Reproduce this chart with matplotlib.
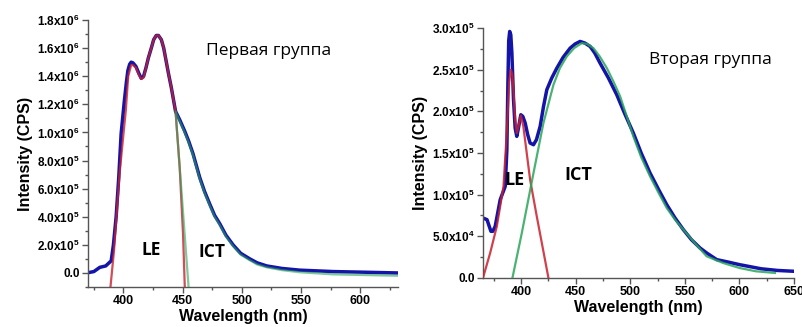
import numpy as np
import matplotlib.pyplot as plt
from matplotlib.ticker import FuncFormatter, MultipleLocator

plt.rcParams['font.family'] = ['Liberation Sans', 'DejaVu Sans']
plt.rcParams['mathtext.fontset'] = 'custom'
plt.rcParams['mathtext.rm'] = 'Liberation Sans'
plt.rcParams['mathtext.bf'] = 'Liberation Sans:bold'

# Panel 1 - measured spectrum
wl1 = [369, 375, 380, 385, 389.6, 391.5, 393.8, 396, 398, 400.8, 402.5, 403.7, 405.2,
       406.5, 408, 410.5, 413, 415, 417, 419, 421, 423.5, 425.5, 427.7, 429.5, 432, 434,
       436, 438, 440.4, 444, 447.5, 451.7, 455, 458.7, 464.4, 468.5, 472.9, 477, 481.4,
       486.5, 492.6, 499, 506.8, 513, 521, 534, 549, 577, 605, 632]
int1 = [0.0, 0.01e6, 0.04e6, 0.05e6, 0.086e6, 0.2e6, 0.4e6, 0.68e6, 0.99e6, 1.23e6,
        1.36e6, 1.44e6, 1.485e6, 1.5e6, 1.495e6, 1.47e6, 1.42e6, 1.385e6, 1.4e6, 1.46e6,
        1.53e6, 1.6e6, 1.66e6, 1.69e6, 1.69e6, 1.66e6, 1.6e6, 1.51e6, 1.42e6, 1.32e6,
        1.15e6, 1.09e6, 1.01e6, 0.94e6, 0.85e6, 0.68e6, 0.58e6, 0.49e6, 0.41e6, 0.35e6,
        0.27e6, 0.2e6, 0.14e6, 0.1e6, 0.072e6, 0.05e6, 0.032e6, 0.02e6, 0.01e6, 0.005e6, 0.0]
# Panel 1 - LE fit
le1_wl = [389, 392, 396.6, 402, 404, 406.5, 408, 410.5, 413, 415, 417, 419, 421, 423.5,
          425.5, 427.7, 429.5, 432, 434, 436, 438, 440.4, 444, 447.5, 450.3, 451.8]
le1_int = [-0.1e6, 0.16e6, 0.7e6, 1.16e6, 1.4e6, 1.48e6, 1.48e6, 1.46e6, 1.41e6, 1.38e6,
           1.39e6, 1.46e6, 1.53e6, 1.6e6, 1.66e6, 1.69e6, 1.69e6, 1.66e6, 1.6e6, 1.51e6,
           1.42e6, 1.32e6, 1.15e6, 0.75e6, 0.28e6, -0.1e6]
# Panel 1 - ICT fit
ict1_wl = [455, 444, 447.5, 451.7, 455, 458.7, 464.4, 468.5, 472.9, 477, 481.4, 486.5,
           492.6, 499, 506.8, 513, 521, 534, 549, 577, 605, 632]
ict1_int = [-0.1e6, 1.15e6, 1.08e6, 1.0e6, 0.93e6, 0.84e6, 0.67e6, 0.57e6, 0.48e6,
            0.4e6, 0.34e6, 0.26e6, 0.19e6, 0.13e6, 0.09e6, 0.06e6, 0.04e6, 0.02e6,
            0.005e6, -0.01e6, -0.015e6, -0.02e6]

# Panel 2 - measured spectrum
wl2 = [365, 368.7, 372.3, 374, 376.2, 380.8, 385.4, 386.9, 387.8, 388.6, 389.5, 390.5,
       391.5, 393, 394.5, 396, 397.5, 399.7, 401.5, 403.7, 406, 408.2, 411.3, 414,
       417.4, 420.5, 423.5, 428, 432.7, 438.5, 444.9, 449.5, 454, 458.5, 463.2, 467.5,
       472.3, 480, 487.6, 495, 502.8, 510, 518.1, 526, 533.4, 541, 548.6, 556, 563.9,
       570, 579.2, 590, 600, 620, 635, 650]
int2 = [0.72e5, 0.70e5, 0.56e5, 0.56e5, 0.62e5, 0.94e5, 1.1e5, 1.54e5, 2.3e5, 2.85e5,
        2.96e5, 2.92e5, 2.7e5, 2.14e5, 1.8e5, 1.7e5, 1.8e5, 1.96e5, 1.94e5, 1.86e5,
        1.72e5, 1.62e5, 1.6e5, 1.66e5, 1.82e5, 2.06e5, 2.26e5, 2.4e5, 2.52e5, 2.65e5,
        2.76e5, 2.81e5, 2.84e5, 2.82e5, 2.78e5, 2.7e5, 2.58e5, 2.4e5, 2.2e5, 1.97e5,
        1.74e5, 1.5e5, 1.26e5, 1.06e5, 0.88e5, 0.72e5, 0.58e5, 0.46e5, 0.36e5, 0.3e5,
        0.22e5, 0.19e5, 0.16e5, 0.11e5, 0.09e5, 0.08e5]
# Panel 2 - LE fit
le2_wl = [365, 371.6, 377.7, 383.8, 386.8, 389, 390.5, 391.8, 393, 394.5, 396, 397.5,
          399.7, 402, 408.2, 414.3, 425]
le2_int = [0.0, 0.3e5, 0.62e5, 1.1e5, 1.74e5, 2.35e5, 2.5e5, 2.45e5, 2.25e5, 1.9e5,
           1.74e5, 1.82e5, 1.95e5, 1.82e5, 1.18e5, 0.74e5, 0.0]
# Panel 2 - ICT fit
ict2_wl = [392, 400.6, 411.3, 420.4, 429.6, 435.5, 441.8, 448.5, 455.6, 460.5, 466.2,
           472, 478.5, 484.5, 490.7, 496.5, 502.8, 510, 518.1, 526, 533.4, 541, 548.6,
           559, 570, 585, 600, 615, 632.6]
ict2_int = [0.0, 0.54e5, 1.26e5, 1.86e5, 2.32e5, 2.52e5, 2.66e5, 2.76e5, 2.82e5,
            2.81e5, 2.76e5, 2.66e5, 2.52e5, 2.36e5, 2.18e5, 1.95e5, 1.7e5, 1.45e5,
            1.22e5, 1.02e5, 0.84e5, 0.7e5, 0.58e5, 0.42e5, 0.26e5, 0.18e5, 0.12e5,
            0.08e5, 0.06e5]

blue = '#1414a8'
red = '#c8202e'
green = '#2aa65a'
callout = ['Open Sans', 'DejaVu Sans']


def sci_fmt(v, pos):
    if abs(v) < 1e-9:
        return '0.0'
    e = int(np.floor(np.log10(abs(v)) + 1e-9))
    m = v / 10 ** e
    return r'$\mathbf{%.1fx10^{%d}}$' % (m, e)


fig = plt.figure(figsize=(8.02, 3.27), dpi=100)
ax1 = fig.add_axes([0.1097, 0.1223, 0.3866, 0.8165])
ax2 = fig.add_axes([0.6022, 0.150, 0.3878, 0.764])

ax1.plot(wl1, int1, color=blue, lw=2.5, zorder=2)
ax1.plot(le1_wl, le1_int, color=red, lw=1.6, alpha=0.8, zorder=3)
ax1.plot(ict1_wl, ict1_int, color=green, lw=1.6, alpha=0.6, zorder=3)
ax1.set_xlim(370, 632)
ax1.set_ylim(-0.1e6, 1.8e6)
ax1.yaxis.set_major_locator(MultipleLocator(0.2e6))
ax1.yaxis.set_minor_locator(MultipleLocator(0.1e6))
ax1.xaxis.set_major_locator(MultipleLocator(50))
ax1.xaxis.set_minor_locator(MultipleLocator(25))
ax1.text(0.38, 0.87, 'Первая группа', transform=ax1.transAxes, fontsize=12.5,
         family=callout)
ax1.text(415, 0.13e6, 'LE', fontsize=12.5, fontweight='bold', family=callout)
ax1.text(463, 0.11e6, 'ICT', fontsize=12.5, fontweight='bold', family=callout)

ax2.plot(wl2, int2, color=blue, lw=2.5, zorder=2)
ax2.plot(le2_wl, le2_int, color=red, lw=1.6, alpha=0.85, zorder=3)
ax2.plot(ict2_wl, ict2_int, color=green, lw=1.6, alpha=0.85, zorder=3)
ax2.set_xlim(365, 650)
ax2.set_ylim(0, 3.0e5)
ax2.yaxis.set_major_locator(MultipleLocator(0.5e5))
ax2.yaxis.set_minor_locator(MultipleLocator(0.25e5))
ax2.xaxis.set_major_locator(MultipleLocator(50))
ax2.xaxis.set_minor_locator(MultipleLocator(25))
ax2.text(0.535, 0.855, 'Вторая группа', transform=ax2.transAxes, fontsize=12.5,
         family=callout)
ax2.text(385, 1.12e5, 'LE', fontsize=13, fontweight='bold', family=callout)
ax2.text(440, 1.18e5, 'ICT', fontsize=13, fontweight='bold', family=callout)

for ax in (ax1, ax2):
    for s in ('top', 'right'):
        ax.spines[s].set_visible(False)
    for s in ('left', 'bottom'):
        ax.spines[s].set_color('#555555')
        ax.spines[s].set_linewidth(1.0)
    ax.yaxis.set_major_formatter(FuncFormatter(sci_fmt))
    ax.tick_params(which='major', length=4, width=1, color='#555555', labelsize=8.5, pad=2)
    ax.tick_params(which='minor', length=2.5, width=1, color='#555555')
    for lab in ax.get_xticklabels() + ax.get_yticklabels():
        lab.set_fontweight('bold')
    ax.set_xlabel('Wavelength (nm)', fontsize=11.5, fontweight='bold', labelpad=1)
    ax.set_ylabel('Intensity (CPS)', fontsize=11.5, fontweight='bold', labelpad=3)
    ax.tick_params(axis='x', labelsize=9)

fig.savefig('out.png', dpi=100)
